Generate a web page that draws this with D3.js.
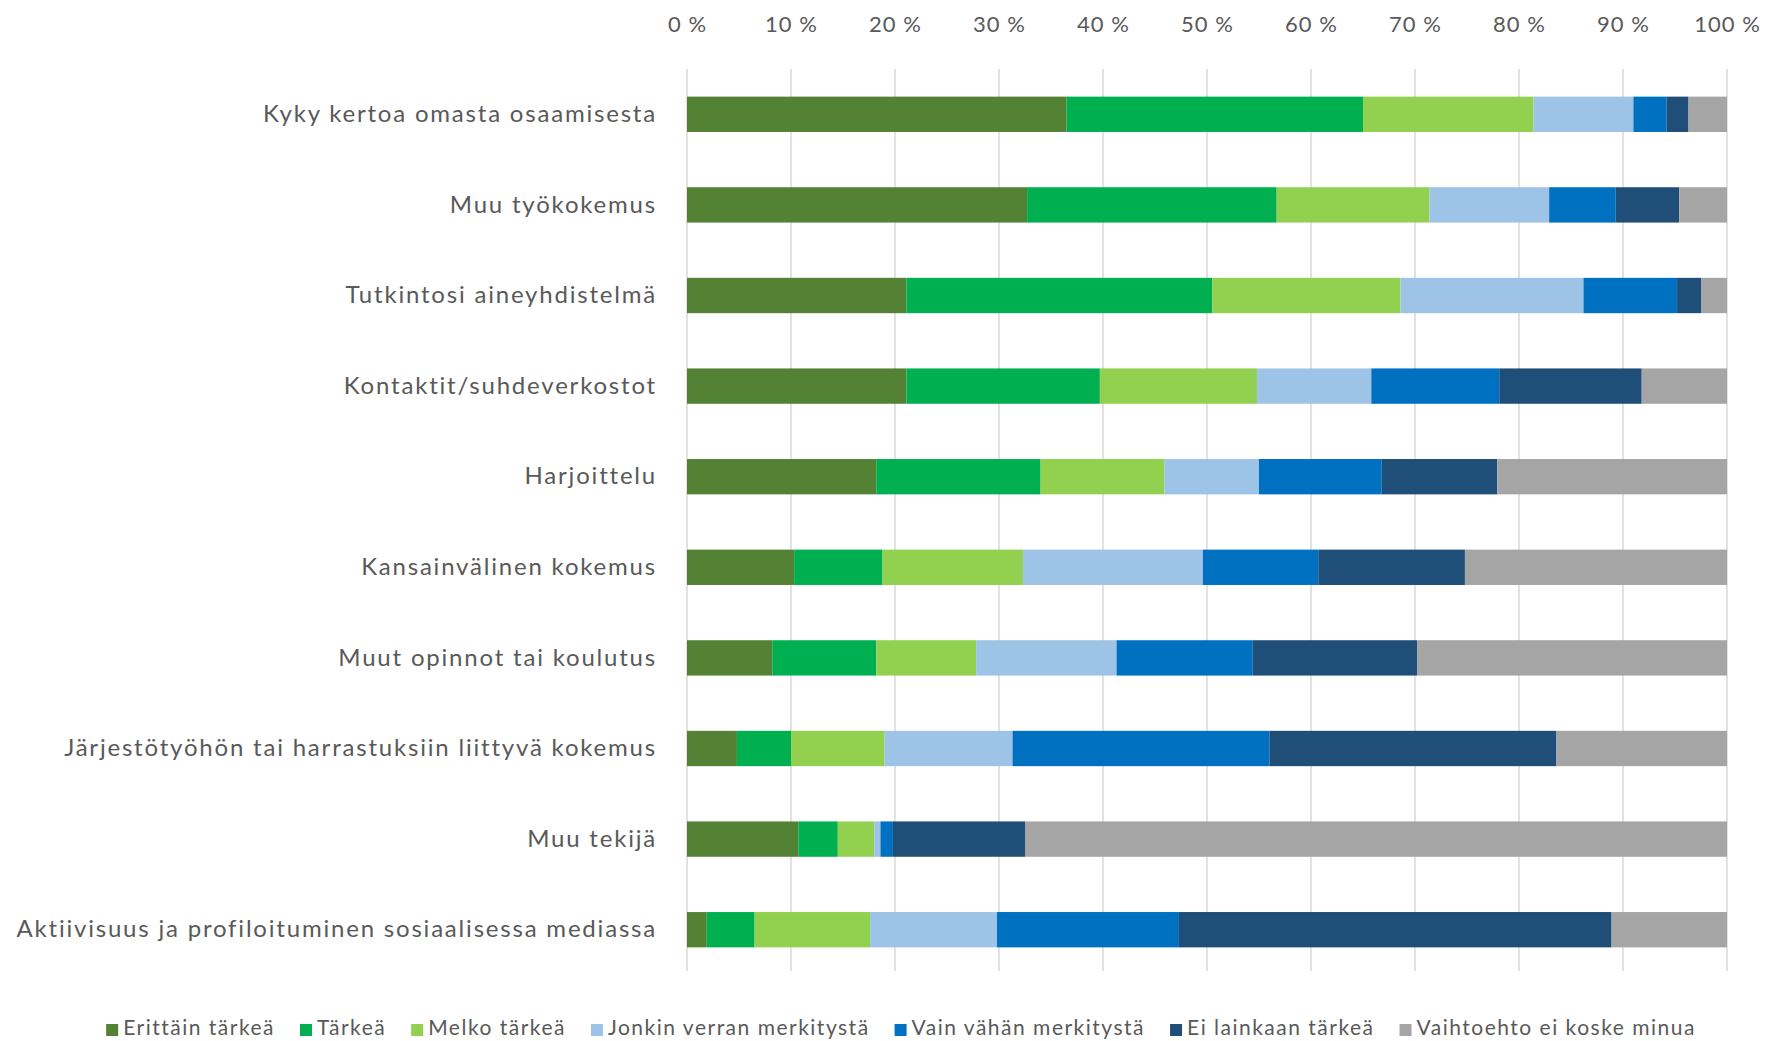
<!DOCTYPE html>
<html>
<head>
<meta charset="utf-8">
<script src="https://cdn.jsdelivr.net/npm/d3@7"></script>
<style>
  body { margin: 0; background: #fff; }
  text { font-family: Lato, "Open Sans", sans-serif; fill: #595959; }
</style>
</head>
<body>
<div id="chart"></div>
<script>
// categories, top to bottom
const categories = [
  'Kyky kertoa omasta osaamisesta',
  'Muu työkokemus',
  'Tutkintosi aineyhdistelmä',
  'Kontaktit/suhdeverkostot',
  'Harjoittelu',
  'Kansainvälinen kokemus',
  'Muut opinnot tai koulutus',
  'Järjestötyöhön tai harrastuksiin liittyvä kokemus',
  'Muu tekijä',
  'Aktiivisuus ja profiloituminen sosiaalisessa mediassa'
];

const seriesNames = ['Erittäin tärkeä', 'Tärkeä', 'Melko tärkeä', 'Jonkin verran merkitystä',
  'Vain vähän merkitystä', 'Ei lainkaan tärkeä', 'Vaihtoehto ei koske minua'];
const seriesColors = ['#548235', '#00b050', '#92d050', '#9dc3e6', '#0070c0', '#1f4e79', '#a5a5a5'];

// percentages per category
const erittainTarkea = [36.5, 32.7, 21.1, 21.1, 18.2, 10.3, 8.2, 4.8, 10.7, 1.9];
const tarkea         = [28.5, 24.0, 29.4, 18.6, 15.8, 8.5, 10.0, 5.2, 3.8, 4.6];
const melkoTarkea    = [16.4, 14.7, 18.1, 15.1, 11.9, 13.5, 9.6, 9.0, 3.5, 11.1];
const jonkinVerran   = [9.6, 11.5, 17.6, 11.0, 9.1, 17.3, 13.5, 12.3, 0.6, 12.2];
const vainVahan      = [3.2, 6.4, 9.0, 12.3, 11.8, 11.1, 13.1, 24.7, 1.2, 17.5];
const eiLainkaan     = [2.1, 6.1, 2.3, 13.7, 11.1, 14.1, 15.8, 27.6, 12.7, 41.6];
const eiKoske        = [3.7, 4.6, 2.5, 8.2, 22.1, 25.2, 29.8, 16.4, 67.5, 11.1];

const tickValues = [0, 10, 20, 30, 40, 50, 60, 70, 80, 90, 100];

const allSeries = [erittainTarkea, tarkea, melkoTarkea, jonkinVerran, vainVahan, eiLainkaan, eiKoske];
const rows = categories.map(function (c, i) {
  const r = {category: c};
  seriesNames.forEach(function (s, j) { r[s] = allSeries[j][i]; });
  return r;
});

const WIDTH = 1768, HEIGHT = 1041;
const MARGIN = {top: 69, right: 41, bottom: 66, left: 687};
const innerW = WIDTH - MARGIN.left - MARGIN.right;
const innerH = HEIGHT - MARGIN.top - MARGIN.bottom;

const svg = d3.select('#chart').append('svg')
  .attr('width', WIDTH)
  .attr('height', HEIGHT);

const g = svg.append('g')
  .attr('transform', 'translate(' + MARGIN.left + ',' + MARGIN.top + ')');

const x = d3.scaleLinear().domain([0, 100]).range([0, innerW]);
const y = d3.scaleBand().domain(categories).range([0, innerH]).paddingInner(0.61).paddingOuter(0.305);

// vertical gridlines
g.append('g')
  .attr('class', 'grid')
  .selectAll('line')
  .data(tickValues)
  .enter().append('line')
  .attr('x1', function (d) { return x(d); })
  .attr('x2', function (d) { return x(d); })
  .attr('y1', 0)
  .attr('y2', innerH - 4)
  .attr('stroke', '#d9d9d9')
  .attr('stroke-width', 1.5);

// top axis labels
const xAxis = d3.axisTop(x).tickValues(tickValues).tickSize(0).tickPadding(0)
  .tickFormat(function (d) { return d + ' %'; });
g.append('g')
  .attr('transform', 'translate(0,' + (-37) + ')')
  .call(xAxis)
  .call(function (a) { a.select('.domain').remove(); })
  .selectAll('text')
  .attr('dy', 0)
  .style('font-size', '22px')
  .style('letter-spacing', '1px')
  .style('font-family', 'Lato, sans-serif')
  .attr('fill', '#595959');

// stacked bars
const stack = d3.stack().keys(seriesNames);
const layers = stack(rows);

g.selectAll('.layer')
  .data(layers)
  .enter().append('g')
  .attr('class', 'layer')
  .attr('fill', function (d, i) { return seriesColors[i]; })
  .selectAll('rect')
  .data(function (d) { return d; })
  .enter().append('rect')
  .attr('x', function (d) { return x(d[0]); })
  .attr('y', function (d) { return y(d.data.category); })
  .attr('width', function (d) { return x(d[1]) - x(d[0]); })
  .attr('height', y.bandwidth());

// category labels
const yAxis = d3.axisLeft(y).tickSize(0).tickPadding(30);
g.append('g')
  .call(yAxis)
  .call(function (a) { a.select('.domain').remove(); })
  .selectAll('text')
  .style('font-size', '24px')
  .style('letter-spacing', '1.8px')
  .style('font-family', 'Lato, sans-serif')
  .attr('fill', '#595959');

// legend
const legend = svg.append('g').attr('class', 'legend');
const items = legend.selectAll('.item')
  .data(seriesNames)
  .enter().append('g')
  .attr('class', 'item');

items.append('rect')
  .attr('width', 12)
  .attr('height', 12)
  .attr('y', -11)
  .attr('fill', function (d, i) { return seriesColors[i]; });

items.append('text')
  .attr('x', 17)
  .style('font-size', '21px')
  .style('letter-spacing', '1.5px')
  .text(function (d) { return d; });

let offset = 0;
const gap = 25;
items.each(function () {
  const w = this.getBBox().width;
  d3.select(this).attr('transform', 'translate(' + offset + ',0)');
  offset += w + gap;
});
const legendW = offset - gap;
legend.attr('transform', 'translate(' + (901 - legendW / 2) + ',' + 1035 + ')');
</script>
</body>
</html>
